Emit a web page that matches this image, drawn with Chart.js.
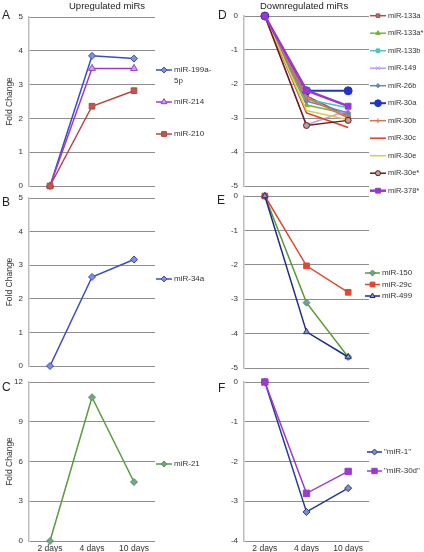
<!DOCTYPE html>
<html>
<head>
<meta charset="utf-8">
<script src="https://cdn.jsdelivr.net/npm/chart.js@4"></script>
<style>
  body { margin: 0; background: #fff; font-family: 'Liberation Sans', Arial, sans-serif; }
  #wrap { position: relative; width: 424px; height: 552px; overflow: hidden; background: #fff; }
  canvas { position: absolute; }
  .lbl { position: absolute; color: #222; white-space: nowrap; line-height: 12px; }
  .title { font-size: 9.5px; top: 0; }
  .letter { font-size: 12px; }
</style>
</head>
<body>
<div id="wrap">
  <canvas id="chartA" width="212" height="196" style="left:0;top:0"></canvas>
  <canvas id="chartB" width="212" height="188" style="left:0;top:188px"></canvas>
  <canvas id="chartC" width="212" height="180" style="left:0;top:372px"></canvas>
  <canvas id="chartD" width="212" height="196" style="left:212px;top:0"></canvas>
  <canvas id="chartE" width="212" height="192" style="left:212px;top:186px"></canvas>
  <canvas id="chartF" width="212" height="180" style="left:212px;top:372px"></canvas>

  <div class="lbl title" style="left:69px">Upregulated miRs</div>
  <div class="lbl title" style="left:260px">Downregulated miRs</div>
  <div class="lbl letter" style="left:2px;top:9px">A</div>
  <div class="lbl letter" style="left:2px;top:196px">B</div>
  <div class="lbl letter" style="left:2px;top:381px">C</div>
  <div class="lbl letter" style="left:218px;top:9px">D</div>
  <div class="lbl letter" style="left:217px;top:194px">E</div>
  <div class="lbl letter" style="left:218px;top:382px">F</div>
</div>

<script>
// ===== DATA =====
const days = ['2 days', '4 days', '10 days'];

// A - upregulated
const mir199a5p = [0, 3.85, 3.77];
const mir214 = [0, 3.48, 3.48];
const mir210 = [0, 2.36, 2.82];
// B
const mir34a = [0, 2.65, 3.17];
// C
const mir21 = [0, 10.85, 4.45];
// D - downregulated
const mir133a = [0, -2.35, -2.95];
const mir133aStar = [0, -2.62, -2.88];
const mir133b = [0, -2.45, -2.7];
const mir149 = [0, -3.2, -2.78];
const mir26b = [0, -2.5, -2.85];
const mir30a = [0, -2.2, -2.2];
const mir30b = [0, -2.4, -3.0];
const mir30c = [0, -2.85, -3.28];
const mir30e = [0, -2.78, -3.05];
const mir30eStar = [0, -3.22, -3.07];
const mir378Star = [0, -2.19, -2.65];
// E
const mir150 = [0, -3.1, -4.68];
const mir29c = [0, -2.03, -2.8];
const mir499 = [0, -3.95, -4.68];
// F
const mir1 = [0, -3.27, -2.67];
const mir30d = [0, -2.8, -2.25];

// y ranges: min, max, step
const rangeA = [0, 5, 1];
const rangeB = [0, 5, 1];
const rangeC = [0, 12, 3];
const rangeD = [-5, 0, 1];
const rangeE = [-5, 0, 1];
const rangeF = [-4, 0, 1];

const FONT = "'Liberation Sans', Arial, sans-serif";

// ===== HELPERS =====
function series(label, data, color, fill, style, radius, width) {
  return {
    label: label,
    data: data,
    borderColor: color,
    backgroundColor: fill,
    pointBackgroundColor: fill,
    pointBorderColor: color,
    pointStyle: style,
    pointRadius: radius,
    pointBorderWidth: 1,
    borderWidth: width || 1.5,
    tension: 0,
    clip: false
  };
}

function wrapText(ctx, text, maxW) {
  if (ctx.measureText(text).width <= maxW) return [text];
  let parts = text.split('-');
  let line = '';
  let lines = [];
  parts.forEach((p, i) => {
    let piece = p + (i < parts.length - 1 ? '-' : '');
    if (line && ctx.measureText(line + piece).width > maxW) {
      lines.push(line);
      line = piece;
    } else {
      line += piece;
    }
  });
  if (line) lines.push(line);
  return lines;
}

// legend drawn to the right of the plot, line + marker + text
const sideLegend = {
  id: 'sideLegend',
  afterDraw(chart, args, o) {
    const ctx = chart.ctx;
    ctx.save();
    ctx.font = (o.size || 8) + 'px ' + FONT;
    ctx.textBaseline = 'middle';
    chart.data.datasets.forEach((ds, i) => {
      const y = o.y + i * o.gap;
      ctx.strokeStyle = ds.borderColor;
      ctx.lineWidth = ds.borderWidth;
      ctx.beginPath();
      ctx.moveTo(o.x, y);
      ctx.lineTo(o.x + o.len, y);
      ctx.stroke();
      if (ds.pointRadius > 0 && Chart.helpers && Chart.helpers.drawPoint) {
        ctx.fillStyle = ds.pointBackgroundColor;
        ctx.strokeStyle = ds.pointBorderColor;
        ctx.lineWidth = ds.pointBorderWidth;
        Chart.helpers.drawPoint(ctx, {
          pointStyle: ds.pointStyle,
          radius: ds.pointRadius * 0.85,
          borderWidth: ds.pointBorderWidth,
          rotation: 0
        }, o.x + o.len / 2, y);
      }
      ctx.fillStyle = '#333';
      const tx = o.x + o.len + 2;
      const lines = wrapText(ctx, ds.label, o.wrap || 60);
      lines.forEach((t, k) => ctx.fillText(t, tx, y + k * 11));
    });
    ctx.restore();
  }
};

function makePanel(id, datasets, range, opt) {
  const n = datasets.length;
  datasets.forEach((d, i) => { d.order = n - i; });
  return new Chart(document.getElementById(id), {
    type: 'line',
    data: { labels: days, datasets: datasets },
    plugins: [sideLegend],
    options: {
      responsive: false,
      animation: false,
      devicePixelRatio: 1,
      layout: { padding: { top: opt.padTop, left: 0, right: opt.padRight, bottom: 0 } },
      plugins: {
        legend: { display: false },
        tooltip: { enabled: false },
        sideLegend: opt.legend
      },
      scales: {
        x: {
          type: 'category',
          offset: true,
          grid: { display: false, drawTicks: false },
          border: { display: false },
          ticks: {
            display: !!opt.showX,
            autoSkip: false,
            maxRotation: 0,
            padding: 3,
            color: '#333',
            font: { family: FONT, size: 8.5, lineHeight: 1 }
          },
          afterFit: s => { s.height = opt.xH; }
        },
        y: {
          min: range[0],
          max: range[1],
          ticks: {
            stepSize: range[2],
            padding: 6,
            color: '#333',
            font: { family: FONT, size: 8, lineHeight: 1 }
          },
          grid: { color: '#8e8e8e', lineWidth: 1, drawTicks: false },
          border: { color: '#bdbdbd', width: 1.5 },
          title: {
            display: !!opt.yTitle,
            text: 'Fold Change',
            color: '#333',
            font: { family: FONT, size: 8.5 },
            padding: { top: 5, bottom: 0 }
          },
          afterFit: s => { s.width = opt.axisW; }
        }
      }
    }
  });
}

// ===== PANELS =====
const blue = '#3a4cc4', blueFill = '#7f8fdc';

makePanel('chartA', [
  series('miR-199a-5p', mir199a5p, blue, blueFill, 'rectRot', 3.5),
  series('miR-214', mir214, '#9a3ad2', '#c9a6e6', 'triangle', 4),
  series('miR-210', mir210, '#b4473f', '#c0564e', 'rect', 4)
], rangeA, { padTop: 17, padRight: 57, xH: 6, axisW: 29, yTitle: true,
  legend: { x: 156, len: 16, y: 70, gap: 32, wrap: 40 } });

makePanel('chartB', [
  series('miR-34a', mir34a, blue, blueFill, 'rectRot', 3.5)
], rangeB, { padTop: 10, padRight: 57, xH: 5, axisW: 29, yTitle: true,
  legend: { x: 156, len: 16, y: 91, gap: 12 } });

makePanel('chartC', [
  series('miR-21', mir21, '#5c9a3c', '#74a0a2', 'rectRot', 3.5)
], rangeC, { padTop: 10, padRight: 57, xH: 11, axisW: 29, yTitle: true, showX: true,
  legend: { x: 156, len: 16, y: 92, gap: 12 } });

makePanel('chartD', [
  series('miR-133a', mir133a, '#a5524c', '#b86a62', 'rect', 3),
  series('miR-133a*', mir133aStar, '#78b43a', '#78b43a', 'triangle', 3),
  series('miR-133b', mir133b, '#4cc3c3', '#4cc3c3', 'rect', 3),
  series('miR-149', mir149, '#c49af0', '#c49af0', 'crossRot', 3),
  series('miR-26b', mir26b, '#6a84b8', '#6a84b8', 'rectRot', 2.5),
  series('miR-30a', mir30a, '#2233c8', '#2233c8', 'circle', 4, 2),
  series('miR-30b', mir30b, '#d7764a', '#d7764a', 'cross', 3),
  series('miR-30c', mir30c, '#e43a20', '#e43a20', 'circle', 0),
  series('miR-30e', mir30e, '#d8cd50', '#d8cd50', 'circle', 0),
  series('miR-30e*', mir30eStar, '#6b1a12', '#b4a2aa', 'circle', 3),
  series('miR-378*', mir378Star, '#9b35d6', '#9b35d6', 'rect', 4, 2.5)
], rangeD, { padTop: 16, padRight: 55, xH: 7, axisW: 32,
  legend: { x: 158, len: 16, y: 15.7, gap: 17.5, size: 7.5 } });

makePanel('chartE', [
  series('miR-150', mir150, '#5a9a38', '#6e9ea6', 'rectRot', 3.5),
  series('miR-29c', mir29c, '#e2472e', '#e2472e', 'rect', 4),
  series('miR-499', mir499, '#1c2a8c', '#8c98b8', 'triangle', 3.5)
], rangeE, { padTop: 10, padRight: 55, xH: 5, axisW: 32,
  legend: { x: 153, len: 15, y: 87, gap: 11.5 } });

makePanel('chartF', [
  series('"miR-1"', mir1, '#2a3a92', '#7c8cc4', 'rectRot', 3.5),
  series('"miR-30d"', mir30d, '#9a3ad2', '#9a3ad2', 'rect', 4.5)
], rangeF, { padTop: 10, padRight: 55, xH: 11, axisW: 32, showX: true,
  legend: { x: 155, len: 15, y: 80, gap: 19 } });
</script>
</body>
</html>
